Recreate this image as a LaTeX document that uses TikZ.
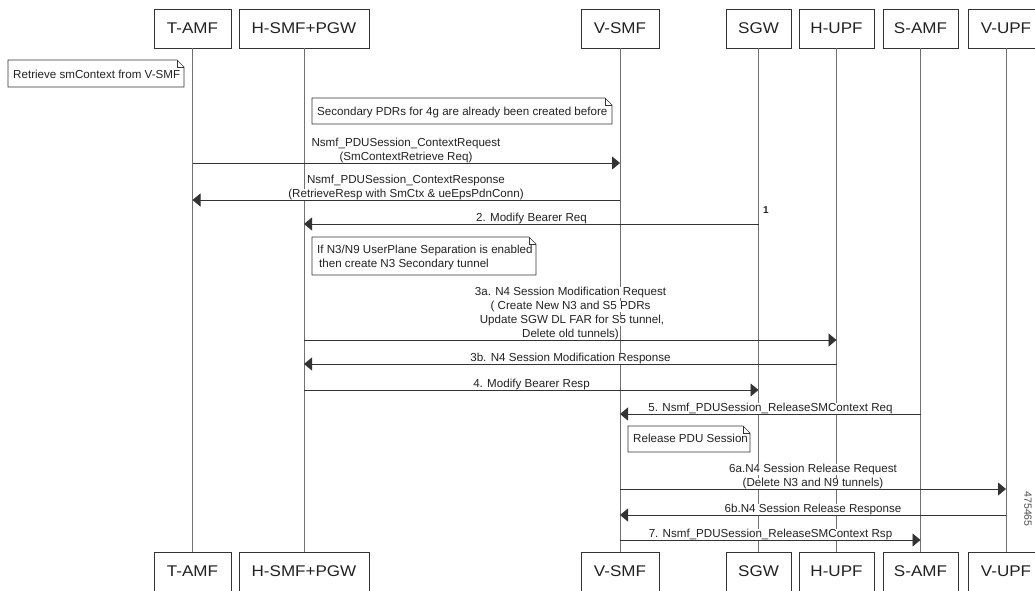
\documentclass[tikz,border=0pt]{standalone}
\usepackage{fontspec}
\setmainfont{Liberation Sans}
\newfontfamily\boxfont[FakeStretch=1.1]{Liberation Sans}
\usetikzlibrary{arrows.meta}
\definecolor{lifeln}{HTML}{707070}
\definecolor{ink}{HTML}{222222}
\definecolor{edge}{HTML}{333333}
\newcommand\wl[1]{{\fboxsep=0pt\colorbox{white}{\rule[-3pt]{0pt}{11pt}#1}}}
\begin{document}
\begin{tikzpicture}[x=1pt,y=-1pt,
  actor/.style={draw=edge, line width=0.8pt, fill=white, minimum height=39pt, inner sep=0pt,
    font=\boxfont\fontsize{15.5}{18}\selectfont, text=ink},
  life/.style={draw=lifeln, line width=1pt},
  msg/.style={draw=edge, line width=0.9pt, -{Triangle[length=8pt,width=13pt]}},
  lbl/.style={anchor=south, inner sep=0pt, align=center, font=\fontsize{11.6}{14}\selectfont, text=ink},
  notebox/.style={draw=edge, line width=0.7pt, fill=white},
  notetext/.style={anchor=west, inner sep=0pt, align=left, font=\fontsize{11.6}{14}\selectfont, text=ink}]
\useasboundingbox (0,0) rectangle (1035,590);
% top actors
\node[actor, minimum width=77pt]  (tamfT) at (192.5,28.5) {T-AMF};
\node[actor, minimum width=130pt] (hsmfT) at (304,28.5) {H-SMF+PGW};
\node[actor, minimum width=78pt]  (vsmfT) at (620,28.5) {V-SMF};
\node[actor, minimum width=65pt]  (sgwT)  at (758.5,28.5) {SGW};
\node[actor, minimum width=75pt]  (hupfT) at (836.5,28.5) {H-UPF};
\node[actor, minimum width=75pt]  (samfT) at (920.5,28.5) {S-AMF};
\node[actor, minimum width=76pt]  (vupfT) at (1006,28.5) {V-UPF};
% bottom actors
\node[actor, minimum width=77pt]  (tamfB) at (192.5,571.5) {T-AMF};
\node[actor, minimum width=130pt] (hsmfB) at (304,571.5) {H-SMF+PGW};
\node[actor, minimum width=78pt]  (vsmfB) at (620,571.5) {V-SMF};
\node[actor, minimum width=65pt]  (sgwB)  at (758.5,571.5) {SGW};
\node[actor, minimum width=75pt]  (hupfB) at (836.5,571.5) {H-UPF};
\node[actor, minimum width=75pt]  (samfB) at (920.5,571.5) {S-AMF};
\node[actor, minimum width=76pt]  (vupfB) at (1006,571.5) {V-UPF};
% lifelines
\foreach \n in {tamf,hsmf,vsmf,sgw,hupf,samf,vupf}
  \draw[life] (\n T.south) -- (\n B.north);
% notes
\draw[notebox] (8,60) -- (177,60) -- (184,67) -- (184,87) -- (8,87) -- cycle;
\draw[notebox, fill=none] (177,60) -- (177,67) -- (184,67);
\node[notetext] (n1) at (13,74.5) {Retrieve smContext from V-SMF};
\draw[notebox] (312,98) -- (605,98) -- (612,105) -- (612,124) -- (312,124) -- cycle;
\draw[notebox, fill=none] (605,98) -- (605,105) -- (612,105);
\node[notetext] (n2) at (317,112) {Secondary PDRs for 4g are already been created before};
\draw[notebox] (312,237) -- (529,237) -- (536,244) -- (536,275) -- (312,275) -- cycle;
\draw[notebox, fill=none] (529,237) -- (529,244) -- (536,244);
\node[notetext] (n3) at (317,257) {If N3/N9 UserPlane Separation is enabled\\\hspace{2pt}then create N3 Secondary tunnel};
\draw[notebox] (628,426) -- (743,426) -- (750,433) -- (750,452) -- (628,452) -- cycle;
\draw[notebox, fill=none] (743,426) -- (743,433) -- (750,433);
\node[notetext] (n4) at (633,438.5) {Release PDU Session};
% message labels
\node[lbl] (l1) at (406,163.5) {\wl{Nsmf\_PDUSession\_ContextRequest}\\\wl{(SmContextRetrieve Req)}};
\node[lbl] (l2) at (406,200.5) {\wl{Nsmf\_PDUSession\_ContextResponse}\\\wl{(RetrieveResp with SmCtx \& ueEpsPdnConn)}};
\node[lbl] (l3) at (531.5,224.5) {\wl{2. Modify Bearer Req}};
\node[lbl] (l4) at (570.5,340.5) {\wl{3a. N4 Session Modification Request}\\\wl{( Create New N3 and S5 PDRs}\\\wl{\hspace{3pt}Update SGW DL FAR for S5 tunnel,}\\\wl{Delete old tunnels)}};
\node[lbl] (l5) at (570.5,364.5) {\wl{3b. N4 Session Modification Response}};
\node[lbl] (l6) at (531.5,390.5) {\wl{4. Modify Bearer Resp}};
\node[lbl] (l7) at (770.5,414.5) {\wl{5. Nsmf\_PDUSession\_ReleaseSMContext Req}};
\node[lbl] (l8) at (813,489.5) {\wl{6a.N4 Session Release Request}\\\wl{(Delete N3 and N9 tunnels)}};
\node[lbl] (l9) at (813,515.5) {\wl{6b.N4 Session Release Response}};
\node[lbl] (l10) at (770.5,540.5) {\wl{7. Nsmf\_PDUSession\_ReleaseSMContext Rsp}};
% messages
\draw[msg] (tamfT |- 0,163) -- (vsmfT |- 0,163);
\draw[msg] (vsmfT |- 0,200) -- (tamfT |- 0,200);
\draw[msg] (sgwT |- 0,224) -- (hsmfT |- 0,224);
\draw[msg] (hsmfT |- 0,340) -- (hupfT |- 0,340);
\draw[msg] (hupfT |- 0,364) -- (hsmfT |- 0,364);
\draw[msg] (hsmfT |- 0,390) -- (sgwT |- 0,390);
\draw[msg] (samfT |- 0,414) -- (vsmfT |- 0,414);
\draw[msg] (vsmfT |- 0,489) -- (vupfT |- 0,489);
\draw[msg] (vupfT |- 0,515) -- (vsmfT |- 0,515);
\draw[msg] (vsmfT |- 0,540) -- (samfT |- 0,540);
% misc labels
\node[font=\bfseries\fontsize{10}{12}\selectfont, text=ink, inner sep=0pt] (one) at (766,210) {1};
\node[font=\fontsize{10.5}{12}\selectfont, text=ink!80, rotate=-90, inner sep=0pt] (fig) at (1028,509) {475465};
\end{tikzpicture}
\end{document}
